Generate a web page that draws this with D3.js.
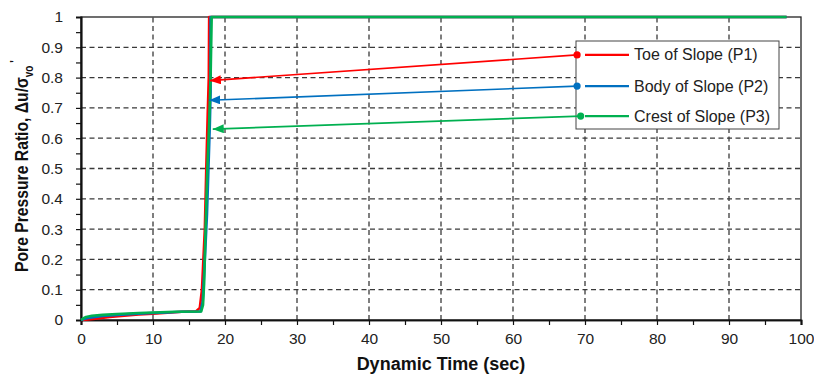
<!DOCTYPE html>
<html><head><meta charset="utf-8">
<script src="https://cdn.jsdelivr.net/npm/d3@7"></script>
<style>body{margin:0;background:#fff}svg{display:block;font-family:"Liberation Sans",Arial,sans-serif}</style>
</head><body><svg id="c" width="814" height="379"></svg>
<script>
const xTicks=[0,10,20,30,40,50,60,70,80,90,100];
const yTicks=[0,0.1,0.2,0.3,0.4,0.5,0.6,0.7,0.8,0.9,1];
const seriesNames=["Toe of Slope (P1)","Body of Slope (P2)","Crest of Slope (P3)"];
const seriesColors=["#ff0000","#0070c0","#00b050"];
const p1=[[0,0],[1,0.002],[2,0.004],[4,0.01],[6,0.014],[8,0.018],[10,0.021],[12,0.024],[14,0.027],[16,0.029],[16.5,0.04],[16.8,0.1],[17.0,0.2],[17.2,0.3],[17.4,0.5],[17.6,0.68],[17.75,0.8],[17.8,1],[98,1]];
const p2=[[0,0],[0.5,0.004],[1,0.007],[3,0.013],[5,0.017],[8,0.021],[10,0.023],[12,0.025],[14,0.027],[16.6,0.028],[16.9,0.06],[17.2,0.2],[17.5,0.35],[17.7,0.5],[17.9,0.65],[18.0,0.75],[18.0,1],[82,1],[98,1]];
const p3=[[0,0],[0.3,0.005],[0.7,0.01],[1.5,0.014],[3,0.017],[5,0.02],[8,0.023],[10,0.025],[13,0.027],[16.7,0.028],[16.95,0.05],[17.1,0.12],[17.3,0.3],[17.55,0.5],[17.8,0.65],[18.0,0.8],[18.15,1],[98,1]];
const series=[p1,p2,p3];
// annotation arrows: [from (legend marker), to (arrow tip on curve)] in data units
const arrows=[[[68.9,0.875],[17.9,0.79]],[[68.9,0.772],[17.8,0.725]],[[69.4,0.673],[18.3,0.63]]];

const svg=d3.select("#c");
const m={l:81,r:13,t:17,b:59};
const W=814,H=379;
const x=d3.scaleLinear().domain([0,100]).range([m.l,W-m.r]);
const y=d3.scaleLinear().domain([0,1]).range([H-m.b,m.t]);

svg.append("defs").selectAll("marker").data(seriesColors).join("marker")
 .attr("id",(d,i)=>"ar"+i).attr("viewBox","0 0 10 10").attr("refX",10).attr("refY",5)
 .attr("markerWidth",11).attr("markerHeight",9).attr("markerUnits","userSpaceOnUse")
 .attr("preserveAspectRatio","none").attr("orient","auto")
 .append("path").attr("d","M0,0L10,5L0,10Z").attr("fill",d=>d);

const g=svg.append("g");
// grid
g.selectAll(".gx").data(xTicks.slice(1,-1)).join("line")
 .attr("x1",d=>x(d)).attr("x2",d=>x(d)).attr("y1",y(0)).attr("y2",y(1))
 .attr("stroke","#3a3a3a").attr("stroke-width",1.3).attr("stroke-dasharray","5,3.5");
g.selectAll(".gy").data(yTicks.slice(1,-1)).join("line")
 .attr("y1",d=>y(d)).attr("y2",d=>y(d)).attr("x1",x(0)).attr("x2",x(100))
 .attr("stroke","#3a3a3a").attr("stroke-width",1.3).attr("stroke-dasharray","5,3.5");

// frame
g.append("rect").attr("x",x(0)).attr("y",y(1)).attr("width",x(100)-x(0)).attr("height",y(0)-y(1))
 .attr("fill","none").attr("stroke","#222").attr("stroke-width",1.3);

// axes
const xa=svg.append("g").attr("transform",`translate(0,${y(0)})`)
 .call(d3.axisBottom(x).tickValues(xTicks).tickSize(5).tickPadding(8).tickFormat(d3.format("d")));
const xm=svg.append("g").attr("transform",`translate(0,${y(0)})`)
 .call(d3.axisBottom(x).tickValues(d3.range(5,100,10)).tickSize(5).tickFormat(""));
const ya=svg.append("g").attr("transform",`translate(${x(0)},0)`)
 .call(d3.axisLeft(y).tickValues(yTicks).tickSize(5).tickPadding(13).tickFormat(d=>d===0||d===1?String(d):d.toFixed(1)));
const ym=svg.append("g").attr("transform",`translate(${x(0)},0)`)
 .call(d3.axisLeft(y).tickValues(d3.range(0.05,1,0.1)).tickSize(5).tickFormat(""));
[xa,xm,ya,ym].forEach(a=>{a.select(".domain").attr("stroke","#111").attr("stroke-width",1.7);
 a.selectAll(".tick line").attr("stroke","#111").attr("stroke-width",1.2);
 a.selectAll("text").attr("font-size",15.5).attr("fill","#222").attr("font-family","Liberation Sans, Arial, sans-serif");});

// lines
const line=d3.line().x(d=>x(d[0])).y(d=>y(d[1]));
series.forEach((s,i)=>{
 svg.append("path").datum(s).attr("d",line).attr("fill","none").attr("stroke",seriesColors[i])
  .attr("stroke-width",2.6).attr("stroke-linejoin","round");
});

// legend box
svg.append("rect").attr("x",576).attr("y",41).attr("width",203).attr("height",88)
 .attr("fill","#fff").attr("stroke","#444").attr("stroke-width",1);
// arrows
arrows.forEach((a,i)=>{
 svg.append("line").attr("x1",x(a[0][0])).attr("y1",y(a[0][1])).attr("x2",x(a[1][0])).attr("y2",y(a[1][1]))
  .attr("stroke",seriesColors[i]).attr("stroke-width",1.6).attr("marker-end",`url(#ar${i})`);
});
arrows.forEach((a,i)=>{
 const cx=x(a[0][0]),cy=y(a[0][1]);
 svg.append("circle").attr("cx",cx).attr("cy",cy).attr("r",3.6).attr("fill",seriesColors[i]);
 svg.append("line").attr("x1",585).attr("x2",629).attr("y1",cy).attr("y2",cy).attr("stroke",seriesColors[i]).attr("stroke-width",2.4);
 svg.append("text").attr("x",634).attr("y",cy+5.5).attr("font-size",16).attr("fill","#222").text(seriesNames[i]);
});

// axis titles
svg.append("text").attr("x",441).attr("y",370).attr("text-anchor","middle").attr("font-size",18)
 .attr("font-weight","bold").attr("fill","#111").text("Dynamic Time (sec)");
const ylg=svg.append("g");
const yl=ylg.append("text").attr("font-size",19).attr("font-weight","bold").attr("fill","#111");
yl.append("tspan").text("Pore Pressure Ratio, Δu/σ");
yl.append("tspan").attr("font-size",12).attr("dy",5).text("vo");
yl.append("tspan").attr("font-size",13).attr("dy",-14).text(" '");
const bb=yl.node().getBBox();
const targetLen=212, sx=targetLen/bb.width;
ylg.attr("transform",`translate(28,${166+targetLen/2}) rotate(-90) scale(${sx},1) translate(${-bb.x},0)`);
</script></body></html>
